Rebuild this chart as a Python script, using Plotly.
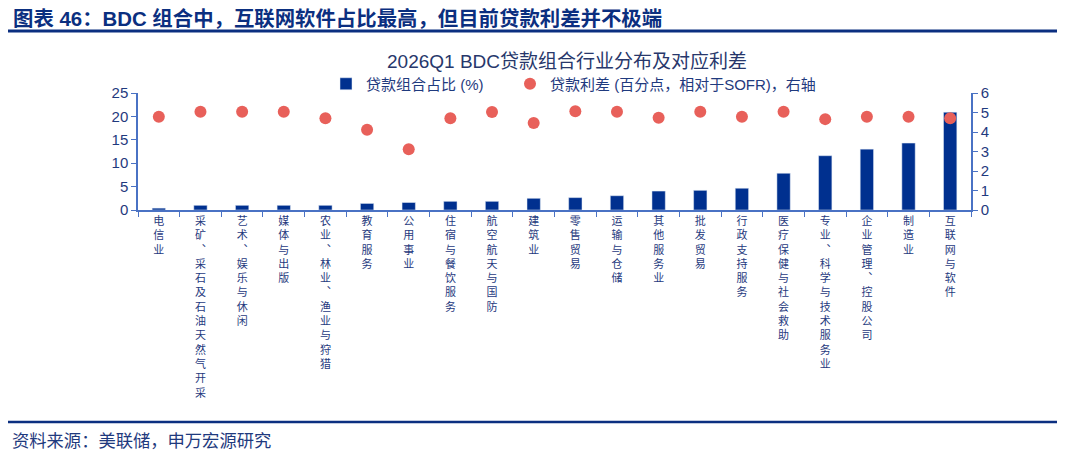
import plotly.graph_objects as go

# industry categories, sorted by loan share
industries = ["电信业", "采矿︑采石及石油天然气开采", "艺术︑娱乐与休闲", "媒体与出版",
              "农业︑林业︑渔业与狩猎", "教育服务", "公用事业", "住宿与餐饮服务",
              "航空航天与国防", "建筑业", "零售贸易", "运输与仓储", "其他服务业",
              "批发贸易", "行政支持服务", "医疗保健与社会救助", "专业︑科学与技术服务业",
              "企业管理︑控股公司", "制造业", "互联网与软件"]
# loan portfolio share, %
loan_share = [0.4, 1.0, 1.0, 1.0, 1.0, 1.4, 1.6, 1.85, 1.85, 2.5,
              2.65, 3.05, 4.05, 4.2, 4.65, 7.85, 11.6, 13.0, 14.3, 20.9]
# loan spread over SOFR, pct points (right axis)
spread = [4.78, 5.04, 5.04, 5.04, 4.70, 4.11, 3.12, 4.70, 5.02, 4.46,
          5.06, 5.04, 4.73, 5.04, 4.78, 5.04, 4.66, 4.78, 4.78, 4.70]

navy = "#00308F"
red = "#E8605A"
axis_col = "#4A72C4"
text_col = "#1F3A7E"
font_fam = "Liberation Sans, Noto Sans CJK SC, sans-serif"

# stack the characters so the labels read top to bottom
vert_labels = ["<br>".join(list(s)) for s in industries]

fig = go.Figure()
fig.add_trace(go.Bar(x=industries, y=loan_share, name="贷款组合占比 (%)",
                     marker_color=navy, width=0.32, legend="legend"))
fig.add_trace(go.Scatter(x=industries, y=spread, name="贷款利差 (百分点，相对于SOFR)，右轴",
                         mode="markers", yaxis="y2", legend="legend2",
                         marker=dict(color=red, size=12)))

# the page puts the figure 8px in from the corner, so work in screen pixels
OFF = 8
W, H = 1049, 459
L, R, T, B = 138 - OFF, W - (971 - OFF), 93 - OFF, H - (210 - OFF)
pw, ph = W - L - R, H - T - B
px_x = lambda X: (X - OFF - L) / pw
px_y = lambda Y: (H - B - (Y - OFF)) / ph

leg_style = dict(orientation="h", xanchor="left", y=px_y(84), yanchor="middle",
                 font=dict(size=15, color=text_col), bgcolor="rgba(0,0,0,0)", itemwidth=30)

fig.update_layout(
    width=W, height=H, autosize=False,
    margin=dict(l=L, r=R, t=T, b=B, autoexpand=False),
    paper_bgcolor="white", plot_bgcolor="white",
    font=dict(family=font_fam, color=text_col, size=15),
    showlegend=True,
    legend=dict(x=px_x(326), **leg_style),
    legend2=dict(x=px_x(510), **leg_style),
    xaxis=dict(type="category", range=[-0.5, len(industries) - 0.5], automargin=False,
               tickmode="array", tickvals=industries, ticktext=vert_labels,
               showline=True, linecolor=axis_col, linewidth=1.5,
               ticks="outside", tickson="boundaries", ticklen=5, tickcolor=axis_col,
               tickangle=0, tickfont=dict(size=11, color=text_col), showgrid=False),
    yaxis=dict(range=[0, 25], dtick=5, automargin=False, showline=True, linecolor=axis_col,
               linewidth=1.5, ticks="outside", ticklen=5, tickcolor=axis_col, showgrid=False,
               zeroline=False, tickfont=dict(size=15, color=text_col)),
    yaxis2=dict(range=[0, 6], dtick=1, overlaying="y", side="right", automargin=False,
                showline=True, linecolor=axis_col, linewidth=1.5, ticks="outside", ticklen=5,
                tickcolor=axis_col, showgrid=False, zeroline=False,
                tickfont=dict(size=15, color=text_col)),
    bargap=0.68,
)

fig.add_annotation(text="<b>图表 46：BDC 组合中，互联网软件占比最高，但目前贷款利差并不极端</b>",
                   xref="paper", yref="paper", x=px_x(11), y=px_y(18),
                   xanchor="left", yanchor="middle", showarrow=False,
                   font=dict(size=20.4, color="#0B2F80"))
fig.add_annotation(text="2026Q1 BDC贷款组合行业分布及对应利差",
                   xref="paper", yref="paper", x=px_x(567), y=px_y(61),
                   xanchor="center", yanchor="middle", showarrow=False,
                   font=dict(size=19, color="#27376B"))
fig.add_annotation(text="资料来源：美联储，申万宏源研究",
                   xref="paper", yref="paper", x=px_x(10), y=px_y(441),
                   xanchor="left", yanchor="middle", showarrow=False,
                   font=dict(size=17.3, color="#1F3A7E"))

fig.add_shape(type="line", xref="paper", yref="paper", x0=px_x(8), x1=px_x(1080),
              y0=px_y(31), y1=px_y(31), line=dict(color="#0B2F80", width=3))
fig.add_shape(type="line", xref="paper", yref="paper", x0=px_x(8), x1=px_x(1080),
              y0=px_y(422), y1=px_y(422), line=dict(color="#0B2F80", width=2.5))

fig.write_html("out.html")
